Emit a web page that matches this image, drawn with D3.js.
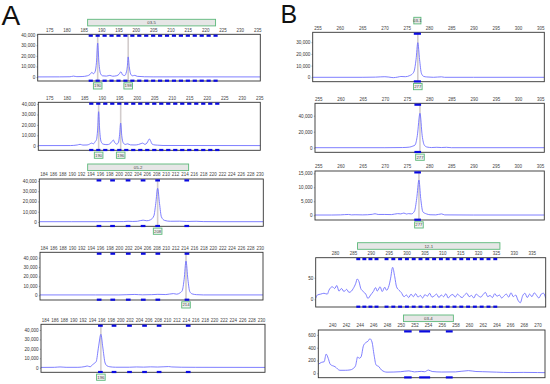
<!DOCTYPE html>
<html><head><meta charset="utf-8">
<script src="https://cdn.jsdelivr.net/npm/d3@7"></script>
<style>body{margin:0;background:#fff}svg{display:block}text{font-family:"Liberation Sans",Arial,sans-serif}</style>
</head><body><svg id="c" width="550" height="384"></svg>
<script>
// ---------- tick labels ----------
const ticksA12 = [175,180,185,190,195,200,205,210,215,220,225,230,235];
const ticksA345 = [184,186,188,190,192,194,196,198,200,202,204,206,208,210,212,214,216,218,220,222,224,226,228,230];
const ticksB123 = [255,260,265,270,275,280,285,290,295,300,305];
const ticksB4 = [280,285,290,295,300,305,310,315,320,325,330,335];
const ticksB5 = [240,242,244,246,248,250,252,254,256,258,260,262,264,266,268,270];
const yTicksA = [0,10000,20000,30000,40000];
const yTicksB1 = [0,10000,20000,30000];
const yTicksB2 = [0,20000,40000];
const yTicksB3 = [0,5000,10000,15000];
const yTicksB4 = [0,50];
const yTicksB5 = [0,200,400,600];

// ---------- marker names ----------
const tagA1 = {text:"03-5", from:186.1, to:223};
const tagA3 = {text:"05-2", from:193.4, to:214.9};
const tagB1 = {text:"03-1", from:276.6, to:278.2};
const tagB4 = {text:"12-1", from:286.3, to:326.1};
const tagB5 = {text:"03-4", from:250.4, to:257.7};

// ---------- bins ----------
const binsA12 = [187,189,191,193,195,197,199,201,203,205,207,209,211,213,215,217,219,221,223];
const binsA345 = [195.8,198.7,202,205.2,208.3,214.5];
const binsB123 = [277.4];
const binsB4 = [286.5,288.2,289.9,291.6,294.4,296.3,298.2,300.1,302,303.9,305.8,307.7,309.6,311.5,313.4,315.3,317.2,319.1,321,322.9,324.8];
const binsB5 = [251.05,253.5,257.1];
const binWidthB5 = [1.1,1.6,1.0];

// ---------- allele calls ----------
const peaksA1 = [{x:189,label:"190"},{x:197.8,label:"198"}];
const peaksA2 = [{x:189.1,label:"190"},{x:195.4,label:"196"}];
const peaksA3 = [{x:208.3,label:"208"}];
const peaksA4 = [{x:214.3,label:"214"}];
const peaksA5 = [{x:195.9,label:"196"}];
const peaksB1 = [{x:277.5,label:"277"}];
const peaksB2 = [{x:277.9,label:"277"}];
const peaksB3 = [{x:277.7,label:"277"}];

// ---------- traces [size, RFU] ----------
const traceA1 = [[171.7,150],[178,200],[181,300],[182,900],[183,400],[184.5,500],[186,1200],[186.8,2500],[187.3,4400],[187.8,3200],[188.3,5500],[188.65,14000],[189,32000],[189.35,14000],[189.8,3500],[190.4,1200],[191.5,900],[192.5,1600],[193.3,800],[194.5,1300],[195.2,2800],[195.7,5000],[196.2,2000],[196.8,1500],[197.3,5000],[197.55,10000],[197.8,19000],[198.1,10000],[198.5,3000],[199,1200],[199.7,1600],[200.4,700],[201.5,500],[202.5,300],[205,200],[236,150]];
const traceA2 = [[171.8,100],[181,150],[183,700],[183.8,1300],[184.6,600],[185.8,700],[186.5,1500],[187.1,2500],[187.6,1800],[188.1,3800],[188.5,6000],[188.8,15000],[189.1,32700],[189.4,15000],[189.8,4000],[190.4,1500],[191.5,1000],[192.3,1800],[192.9,4000],[193.3,5500],[193.7,3000],[194.3,1500],[194.8,3500],[195.1,11000],[195.4,21800],[195.7,10000],[196.1,3000],[196.7,1200],[197.4,1800],[198.2,800],[199.5,700],[200.5,1200],[201.2,2000],[201.7,2500],[202.3,1300],[202.9,2500],[203.3,5000],[203.6,6500],[203.9,5000],[204.4,1500],[205.2,700],[206,500],[207.5,200],[236,100]];
const traceA3 = [[183.1,300],[190,300],[195,300],[199,350],[201,400],[202,700],[203,500],[204,700],[205.2,1800],[206,1200],[206.8,2200],[207.5,6000],[207.9,18000],[208.3,32900],[208.7,18000],[209.1,5000],[209.8,1500],[211,700],[213,800],[214.5,500],[216.5,700],[218,400],[222,300],[230.8,300]];
const traceA4 = [[183.1,400],[195,400],[200,400],[203.4,900],[205,500],[207,700],[208.3,1000],[210,800],[211.6,1800],[212.3,1200],[213,2500],[213.5,5000],[213.9,17000],[214.3,36500],[214.7,17000],[215.1,4000],[215.6,1500],[216.5,700],[218,400],[230.8,400]];
const traceA5 = [[183.1,300],[186,400],[187.2,800],[188.5,400],[191,400],[192.5,1200],[193,1800],[193.6,1000],[194.3,4000],[194.9,6500],[195.4,22000],[195.9,35400],[196.3,22000],[196.8,5000],[197.2,2000],[197.8,1000],[199,500],[202,500],[203.5,800],[205,600],[206.5,900],[208,700],[210.3,1200],[211,800],[213,500],[216,400],[230.9,300]];
const traceB1 = [[253.9,0],[265,0],[268,150],[270.1,500],[271,200],[272,-300],[273,200],[273.7,700],[274.7,500],[275.7,1500],[276.3,3000],[276.7,5500],[277.1,15000],[277.5,29600],[277.9,15000],[278.3,3500],[278.8,800],[279.5,300],[281,0],[282.8,400],[283.5,0],[290,0],[305.9,0]];
const traceB2 = [[254.2,0],[270,0],[274,200],[275.5,700],[276.3,2000],[276.8,3400],[277.3,15000],[277.9,43000],[278.4,15000],[278.9,3000],[279.5,800],[280.5,200],[281.7,500],[282.7,200],[283.9,500],[285,0],[306,0]];
const traceB3 = [[254.2,100],[258,100],[260,150],[261.8,300],[262.5,150],[263.3,200],[265,150],[267.2,350],[267.8,550],[268.5,300],[270,300],[271.5,250],[272.9,600],[273.6,500],[274.3,800],[274.9,450],[275.3,600],[276,500],[276.7,1500],[277.2,6000],[277.7,12600],[278.1,6000],[278.6,1200],[279.4,500],[280.2,200],[281.5,150],[282.8,500],[283.5,150],[290,100],[306,100]];
const traceB4 = [[274.6,2],[275.06,10],[276,12],[276.9,14],[277.85,12],[278.3,21],[279.25,29],[279.9,25],[280.5,32],[281.1,19],[281.8,25],[282.5,18],[283.25,23],[283.9,16],[284.6,19],[285.1,25],[285.8,37],[286.2,47],[286.7,41],[287.2,25],[287.9,18],[288.6,12],[289.2,2],[289.96,10],[290.7,18],[291.36,27],[291.8,19],[292.6,29],[293.2,18],[293.9,28],[294.4,21],[295.1,32],[295.55,49],[296.1,74],[296.7,52],[297.2,29],[297.9,21],[298.5,16],[299.3,6],
[299.95,10],[300.6,4],[301.25,12],[301.9,6],[302.55,13],[303.2,5],[303.85,9],[304.5,3],[305.15,11],[305.8,7],[306.45,14],[307.1,5],[307.75,8],[308.4,12],[309.05,4],[309.7,10],[310.35,6],[311,13],[311.65,3],[312.3,9],[312.95,11],[313.6,5],[314.25,12],[314.9,7],[315.55,4],[316.2,10],[316.85,14],[317.5,6],[318.15,9],[318.8,3],[319.45,12],[320.1,8],[320.75,5],[321.4,11],[322.05,16],[322.7,6],[323.35,9],[324,4],[324.65,13],[325.3,7],[325.95,10],[326.6,3],[327.25,8],[327.9,12],[328.55,5],[329.2,15],[329.85,6],[330.5,10],[331.15,-2],[331.8,-8],[332.45,8],[333.1,14],[333.75,4],[334.4,12],[335.05,6],[335.7,15],[336.35,9],[337,3],[337.65,12],[338.3,14],[338.9,2]];
const traceB5 = [[237.95,140],[238.45,172],[238.8,180],[239.1,300],[239.4,234],[239.7,140],[240.4,103],[241.1,47],[241.9,47],[242.6,53],[243.0,70],[243.4,120],[243.7,255],[243.95,235],[244.2,255],[244.55,430],[244.9,480],[245.2,500],[245.5,540],[245.8,490],[246.1,290],[246.4,130],[246.8,105],[247.2,50],[248,18],[249,20],[250,25],[251.2,38],[252,22],[253,30],[253.5,25],[254.06,50],[254.6,28],[256,20],[258,22],[259.9,42],[261,28],[262,25],[264,18],[266,12],[268,14],[270,12],[271.1,10]];

// ---------- panel layout ----------
const panels = [
 {box:[37.7,34.3,260.3,81], xd:[171.7,235.9], yd:[-3700,40300], xt:ticksA12, yt:yTicksA, trace:traceA1, bins:binsA12, bw:1.2, peaks:peaksA1, tag:tagA1},
 {box:[38.3,102.3,260.3,150.3], xd:[171.86,235.3], yd:[-4420,41730], xt:ticksA12, yt:yTicksA, trace:traceA2, bins:binsA12, bw:1.2, peaks:peaksA2},
 {box:[39.3,179,263.3,226.3], xd:[183.1,230.8], yd:[-4200,41950], xt:ticksA345, yt:yTicksA, trace:traceA3, bins:binsA345, bw:1.0, peaks:peaksA3, tag:tagA3},
 {box:[40,252.3,263,300], xd:[183.2,230.7], yd:[-5000,45740], xt:ticksA345, yt:yTicksA, trace:traceA4, bins:binsA345, bw:1.0, peaks:peaksA4},
 {box:[41,324.3,265,372.3], xd:[183.15,230.85], yd:[-4880,46020], xt:ticksA345, yt:yTicksA, trace:traceA5, bins:binsA345, bw:1.0, peaks:peaksA5},
 {box:[312.7,32.3,544.3,81.7], xd:[253.9,305.9], yd:[-3760,38460], xt:ticksB123, yt:yTicksB1, trace:traceB1, bins:binsB123, bw:1.6, peaks:peaksB1, tag:tagB1},
 {box:[315,103.3,544.3,152.3], xd:[254.26,305.9], yd:[-5750,55500], xt:ticksB123, yt:yTicksB2, trace:traceB2, bins:binsB123, bw:1.5, peaks:peaksB2},
 {box:[315,171,544.3,220], xd:[254.26,305.97], yd:[-1680,15820], xt:ticksB123, yt:yTicksB3, trace:traceB3, bins:binsB123, bw:1.5, peaks:peaksB3},
 {box:[315.7,257.7,545.7,307], xd:[274.6,338.9], yd:[-17.8,96.3], xt:ticksB4, yt:yTicksB4, trace:traceB4, bins:binsB4, bw:1.1, peaks:[], tag:tagB4},
 {box:[318.3,330,545,377.7], xd:[237.95,271.1], yd:[-68.75,676.6], xt:ticksB5, yt:yTicksB5, trace:traceB5, bins:binsB5, bw:binWidthB5, peaks:[], tag:tagB5}
];

const svg = d3.select("#c");
svg.append("rect").attr("width",550).attr("height",384).attr("fill","#fff");
const defs = svg.append("defs");

const GREEN = "#5cb87a", TRACE = "#7070ff", BIN = "#0a0ae0";

panels.forEach((p,i)=>{
  const [x0,y0,x1,y1] = p.box;
  const x = d3.scaleLinear().domain(p.xd).range([x0,x1]);
  const y = d3.scaleLinear().domain(p.yd).range([y1,y0]);
  const g = svg.append("g");
  const cid = "clip"+i;
  defs.append("clipPath").attr("id",cid).append("rect")
    .attr("x",x0).attr("y",y0).attr("width",x1-x0).attr("height",y1-y0);

  // tag box
  if (p.tag) {
    g.append("rect").attr("x",x(p.tag.from)).attr("y",y0-15).attr("width",x(p.tag.to)-x(p.tag.from)).attr("height",6.6)
      .attr("fill","#e6e6e6").attr("stroke",GREEN).attr("stroke-width",0.9);
    g.append("text").attr("x",(x(p.tag.from)+x(p.tag.to))/2).attr("y",y0-11.7).attr("dy","0.35em")
      .attr("text-anchor","middle").attr("font-size",4.3).attr("fill","#444").text(p.tag.text);
  }

  // top axis
  const ax = g.append("g").attr("transform",`translate(0,${y0})`)
    .call(d3.axisTop(x).tickValues(p.xt).tickSize(0).tickPadding(2.6).tickFormat(d3.format("d")));
  ax.select(".domain").remove();
  ax.selectAll("text").attr("font-size",4.5).attr("fill","#444").attr("font-family","Liberation Sans, Arial, sans-serif");

  // left axis
  const ay = g.append("g").attr("transform",`translate(${x0},0)`)
    .call(d3.axisLeft(y).tickValues(p.yt).tickSize(1.2).tickPadding(1.2).tickFormat(d3.format(",")));
  ay.select(".domain").remove();
  ay.selectAll("line").attr("stroke","#666").attr("stroke-width",0.5);
  ay.selectAll("text").attr("font-size",4.6).attr("fill","#333").attr("font-family","Liberation Sans, Arial, sans-serif");

  // peak lines
  g.selectAll(".pl").data(p.peaks).join("line")
    .attr("x1",d=>x(d.x)).attr("x2",d=>x(d.x)).attr("y1",y0).attr("y2",y1)
    .attr("stroke","#d2cccc").attr("stroke-width",1.6);

  // trace
  g.append("path").datum(p.trace).attr("clip-path",`url(#${cid})`)
    .attr("fill","none").attr("stroke",TRACE).attr("stroke-width",0.9).attr("stroke-linejoin","round")
    .attr("d", d3.line().x(d=>x(d[0])).y(d=>y(d[1])).curve(d3.curveMonotoneX));

  // frame
  g.append("rect").attr("x",x0).attr("y",y0).attr("width",x1-x0).attr("height",y1-y0)
    .attr("fill","none").attr("stroke","#333").attr("stroke-width",0.9);

  // bins
  const bw = (d,k)=> Array.isArray(p.bw) ? p.bw[k] : p.bw;
  ["top","bottom"].forEach(pos=>{
    g.selectAll(".b"+pos).data(p.bins).join("rect")
      .attr("x",(d,k)=>x(d-bw(d,k)/2)).attr("width",(d,k)=>x(d+bw(d,k)/2)-x(d-bw(d,k)/2))
      .attr("y", pos==="top" ? y0+0.3 : y1-1.4).attr("height",2.2)
      .attr("fill",BIN);
  });

  // peak labels
  p.peaks.forEach(d=>{
    g.append("rect").attr("x",x(d.x)-4.3).attr("y",y1+1.8).attr("width",8.6).attr("height",6.2)
      .attr("fill","#f2f2f2").attr("stroke",GREEN).attr("stroke-width",0.9);
    g.append("text").attr("x",x(d.x)).attr("y",y1+4.9).attr("dy","0.35em").attr("text-anchor","middle")
      .attr("font-size",4.3).attr("fill","#444").text(d.label);
  });
});

// panel letters
svg.append("text").attr("x",1.5).attr("y",25).attr("font-size",28).attr("fill","#111").text("A");
svg.append("text").attr("x",280.5).attr("y",23.3).attr("font-size",25).attr("fill","#111").text("B");
</script></body></html>
